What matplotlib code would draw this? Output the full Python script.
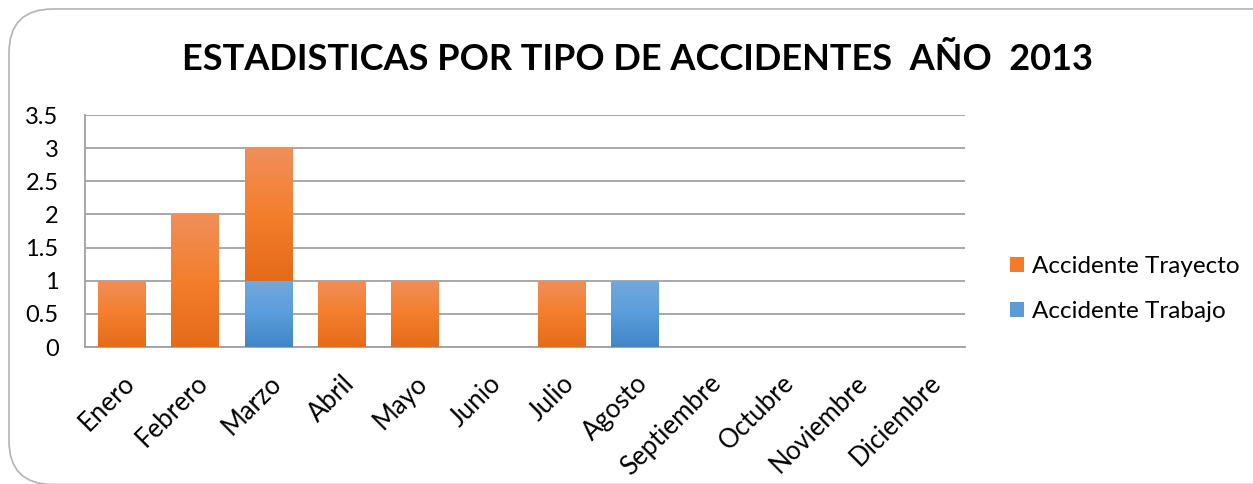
import numpy as np
import matplotlib.pyplot as plt
from matplotlib.patches import FancyBboxPatch, Patch
from matplotlib.colors import LinearSegmentedColormap

meses = ['Enero', 'Febrero', 'Marzo', 'Abril', 'Mayo', 'Junio', 'Julio',
         'Agosto', 'Septiembre', 'Octubre', 'Noviembre', 'Diciembre']
trabajo = [0, 0, 1, 0, 0, 0, 0, 1, 0, 0, 0, 0]
trayecto = [1, 2, 2, 1, 1, 0, 1, 0, 0, 0, 0, 0]

plt.rcParams['font.family'] = ['Lato', 'DejaVu Sans']

fig = plt.figure(figsize=(12.53, 4.84), dpi=100)
ax = fig.add_axes([85 / 1253, 1 - 347 / 484, 880 / 1253, 232 / 484])

# rounded frame around the chart
frame = FancyBboxPatch((9 / 1253, -0.5 / 484), 1.2, 1 - 8.5 / 484,
                       boxstyle='round,pad=0,rounding_size=0.035',
                       transform=fig.transFigure, fill=False,
                       edgecolor='#B4B4B4', linewidth=1.2,
                       mutation_aspect=1253 / 484)
fig.patches.append(frame)

orange = LinearSegmentedColormap.from_list('o', ['#E46B19', '#F47E2C', '#F08F5A'])
blue = LinearSegmentedColormap.from_list('b', ['#4186C7', '#5A9DDD', '#72A8DC'])

x = np.arange(len(meses))
w = 0.65
grad = np.linspace(0, 1, 100).reshape(-1, 1)


def gradient_bars(bars, cmap):
    for b in bars:
        if b.get_height() == 0:
            continue
        x0, y0 = b.get_x(), b.get_y()
        im = ax.imshow(grad, cmap=cmap, aspect='auto', origin='lower',
                       extent=(x0, x0 + b.get_width(), y0, y0 + b.get_height()),
                       zorder=3)
        im.set_clip_path(b)
        b.set_alpha(0)


b1 = ax.bar(x, trabajo, w, color='#5B9BD5', label='Accidente Trabajo', zorder=2)
b2 = ax.bar(x, trayecto, w, bottom=trabajo, color='#F47E2C',
            label='Accidente Trayecto', zorder=2)
gradient_bars(b1, blue)
gradient_bars(b2, orange)

ax.set_xlim(-0.5, len(meses) - 0.5)
ax.set_ylim(0, 3.5)
ax.set_yticks(np.arange(0, 3.6, 0.5))
ax.set_yticklabels(['0', '0.5', '1', '1.5', '2', '2.5', '3', '3.5'], fontsize=17)
ax.set_xticks(x)
ax.set_xticklabels(meses, rotation=45, ha='right', va='top',
                   rotation_mode='anchor', fontsize=18.5)
ax.tick_params(length=0)
ax.tick_params(axis='y', pad=19)
ax.tick_params(axis='x', pad=17)
ax.yaxis.grid(True, color='#A0A0A0', linewidth=1.3, zorder=0)
ax.set_axisbelow(True)
for s in ['top', 'right']:
    ax.spines[s].set_visible(False)
for s in ['left', 'bottom']:
    ax.spines[s].set_color('#A0A0A0')
    ax.spines[s].set_linewidth(1.3)

handles = [Patch(facecolor='#F17C2C', label='Accidente Trayecto'),
           Patch(facecolor='#5A9BD8', label='Accidente Trabajo')]
fig.legend(handles=handles, loc='center left', bbox_to_anchor=(988 / 1253, 1 - 289 / 484),
           frameon=False, fontsize=17.5, handlelength=0.6, handleheight=0.6,
           handletextpad=0.3, labelspacing=1.0)

fig.text(637 / 1253, 1 - 60 / 484, 'ESTADISTICAS POR TIPO DE ACCIDENTES  AÑO  2013',
         ha='center', va='center', fontsize=26, fontweight='bold')

fig.savefig('out.png', dpi=100)
